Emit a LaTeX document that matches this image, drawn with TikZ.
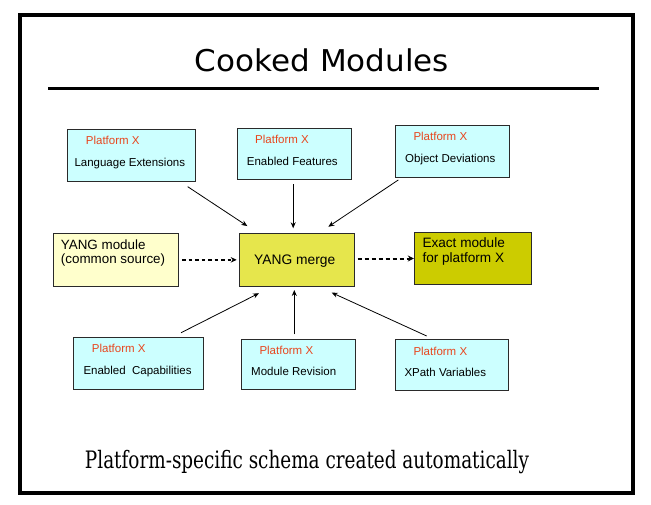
\documentclass[tikz,border=0pt]{standalone}
\usepackage{fontspec}
\usetikzlibrary{arrows.meta,calc}
\newfontfamily\boxfont{Liberation Sans}
\newfontfamily\titlefont{DejaVu Sans}
\newfontfamily\capfont{DejaVu Serif}
\definecolor{cyanfill}{HTML}{CCFFFF}
\definecolor{ylight}{HTML}{FFFFCC}
\definecolor{ymerge}{HTML}{E6E64C}
\definecolor{exactfill}{HTML}{CCCC00}
\definecolor{pxred}{HTML}{E8461E}
\definecolor{boxline}{HTML}{2A2A2A}
\tikzset{
  box/.style={draw=boxline, line width=1bp, anchor=north west, inner sep=0pt},
  pbox/.style={box, fill=cyanfill},
  pxt/.style={anchor=base west, inner sep=0pt, text=pxred, font=\boxfont\fontsize{11.5bp}{14bp}\selectfont},
  lbt/.style={anchor=base west, inner sep=0pt, text=black, font=\boxfont\fontsize{11.5bp}{14bp}\selectfont},
  bigt/.style={anchor=base west, inner sep=0pt, text=black, align=left, font=\boxfont\fontsize{13.4bp}{14.6bp}\selectfont},
  arr/.style={line width=0.8bp, -{Stealth[length=6bp,width=5bp]}},
  darr/.style={line width=1.3bp, dash pattern=on 3.5bp off 3bp, -{Stealth[length=6bp,width=5.5bp]}},
  darrb/.style={line width=2bp, dash pattern=on 4bp off 3bp, -{Stealth[length=6bp,width=6bp]}},
}
\begin{document}
\begin{tikzpicture}[x=1bp,y=-1bp]
\useasboundingbox (0,0) rectangle (651,505);
\fill[white] (0,0) rectangle (651,505);
% frame
\draw[line width=4bp] (20,15) rectangle (633,492.5);
% title
\node[anchor=base, inner sep=0pt, font=\titlefont\fontsize{30bp}{34bp}\selectfont] (title) at (322,72) {\resizebox{254bp}{\height}{Cooked Modules}};
\coordinate (rl) at (48,88.5);
\coordinate (rr) at (599,88.5);
\draw[line width=3.5bp] (rl) -- (rr);
% platform boxes
\node[pbox, minimum width=128bp, minimum height=52bp] (le) at (67,129) {};
\node[pxt] (lea) at (85.7,145) {Platform X};
\node[lbt] (leb) at (74.3,166.7) {Language Extensions};
\node[pbox, minimum width=114bp, minimum height=51bp] (ef) at (236.7,128.3) {};
\node[pxt] (efa) at (255,143.3) {Platform X};
\node[lbt] (efb) at (246.7,165.7) {Enabled Features};
\node[pbox, minimum width=113.4bp, minimum height=52bp] (od) at (395.3,125.3) {};
\node[pxt] (oda) at (413.3,140.7) {Platform X};
\node[lbt] (odb) at (405,163) {Object Deviations};
\node[pbox, minimum width=129.4bp, minimum height=51.7bp] (ec) at (73.3,337.3) {};
\node[pxt] (eca) at (91.7,352.3) {Platform X};
\node[lbt] (ecb) at (83.3,374) {Enabled\ \ Capabilities};
\node[pbox, minimum width=114.3bp, minimum height=50.6bp] (mr) at (241,338.7) {};
\node[pxt] (mra) at (259.3,354.7) {Platform X};
\node[lbt] (mrb) at (251,375.7) {Module Revision};
\node[pbox, minimum width=113.3bp, minimum height=50.7bp] (xp) at (395,339.3) {};
\node[pxt] (xpa) at (413.3,355.3) {Platform X};
\node[lbt] (xpb) at (404.3,376.3) {XPath Variables};
% middle row
\node[box, fill=ylight, minimum width=125bp, minimum height=53.3bp] (ym) at (53.3,232.7) {};
\node[bigt] (ymt) at (60.7,263.7) {YANG module\\(common source)};
\node[box, fill=ymerge, minimum width=115bp, minimum height=53.3bp] (merge) at (239.3,232.7) {};
\node[anchor=base, inner sep=0pt, font=\boxfont\fontsize{13.8bp}{15bp}\selectfont] (mergetxt) at (294.7,264) {YANG merge};
\node[box, fill=exactfill, minimum width=116.4bp, minimum height=51.4bp] (ex) at (414.3,232.3) {};
\node[bigt, font=\boxfont\fontsize{13.6bp}{14.5bp}\selectfont] (ext) at (422.3,262.5) {Exact module\\for platform X};
% arrows
\draw[arr, shorten <=8.5bp, shorten >=12.1bp] ([xshift=-15.4bp]le.south east) -- ([xshift=18.1bp]merge.north west);
\draw[arr, shorten <=4bp, shorten >=4.4bp] ([xshift=-1bp]ef.south) -- ([xshift=-1bp]ef.south |- merge.north);
\draw[arr, shorten <=3bp, shorten >=10.75bp] ([xshift=5.5bp]od.south west) -- ([xshift=-35.9bp]merge.north east);
\draw[darr, shorten <=2.7bp, shorten >=2.6bp] (ym.east) -- (merge.west);
\draw[darrb, shorten <=2.4bp, shorten >=0.5bp] (merge.east |- ex.west) -- (ex.west);
\draw[arr, shorten <=10.1bp, shorten >=13.8bp] ([xshift=-31.7bp]ec.north east) -- ([xshift=32bp]merge.south west);
\draw[arr, shorten <=4.4bp, shorten >=3bp] ([xshift=53.3bp]mr.north west) -- ([xshift=53.3bp]mr.north west |- merge.south);
\draw[arr, shorten <=7.9bp, shorten >=13.6bp] ([xshift=38.9bp]xp.north west) -- ([xshift=-35.95bp]merge.south east);
% caption
\node[anchor=base, inner sep=0pt, font=\capfont\fontsize{24bp}{28bp}\selectfont] (cap) at (307,468) {\resizebox{444bp}{\height}{Platform-specific schema created automatically}};
\end{tikzpicture}
\end{document}
